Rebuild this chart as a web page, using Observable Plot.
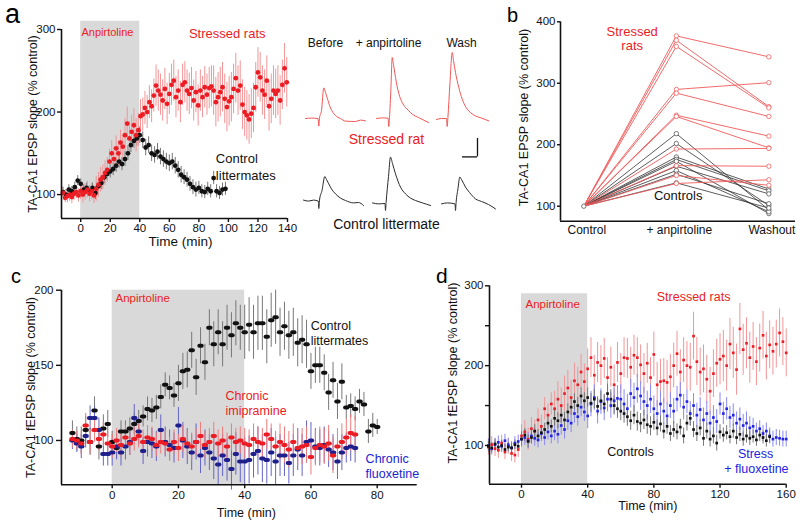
<!DOCTYPE html>
<html><head><meta charset="utf-8">
<script src="https://cdn.jsdelivr.net/npm/d3@7"></script>
<script src="https://cdn.jsdelivr.net/npm/@observablehq/plot@0.6"></script>
<style>
body{margin:0;background:#fff;}
#fig{position:relative;width:800px;height:526px;overflow:hidden;font-family:"Liberation Sans",Arial,sans-serif;}
.lt{position:absolute;line-height:1;color:#000;white-space:nowrap;}
</style></head><body><div id="fig"></div>
<script>
// ---------------- DATA ----------------
// Panel a: time course (min), EPSP slope (% control)
const aRedStart = -12, aRedStep = 1.5;
const aRedVals = [102,96,98,100,97,101,103,99,104, 100,103,106,101,104,99,107, 112,118,121,126,130,140,
 150,143,156,150,163,158,172, 186,168,176,184,172,178,195, 197,205,200,212,207,220,
 232,226,221,214,228,210,222, 233,238,218,226,212,233,236, 226,222,229,214,224,208,
 226,218,230,221,229,231,226, 212,218,224,230,216,206,213, 218,228,241,226,232,209,
 200,196,191,198,205,230,248, 242,226,221,238,207,216,226, 222,226,214,233,253,236];
const aRedErrBins = [6,8,10,15,15,20,20,25,25,25,25,30,30,30,30,30,30]; // per 10 min from -20
const aBlackStart = -12, aBlackStep = 2;
const aBlackVals = [103,100,106,104,109,117,113, 106,108,104,108,102, 110,114,121,125,128,
 131,135,140,137,143, 150,160,165,168,172, 166,157,160,150,148, 152,146,143,140,138,
 140,135,130,124,121, 118,113,109,106,108, 104,103,107,104,120, 104,102,106,107];
const aBlackErrBins = [6,6,6,8,8,9,10,10,10,9,8,8,8];
const aXTicks = [0,20,40,60,80,100,120,140];
const aYTicks = [100,200,300];
const drugWindow = {start:0, end:40};

// Panel a inset traces: [ms, mV] relative to each row's baseline
const traceRedBefore = [[0,0],[6,0.02],[12.5,0],[13.3,-0.38],[14,0.02],[16,0.4],[18.3,1.53],[20,1.3],[21.7,1.03],[25,0.53],[30,0.15],[35,0],[40,-0.13],[50,-0.15],[55,-0.08],[60,-0.12]];
const traceRedAnp = [[0,0],[6,0.03],[11.5,0.02],[12.3,-0.4],[13,0.05],[14.5,1.6],[15.7,3.05],[17,2.7],[19,2.05],[22.3,1.25],[25.7,0.8],[29,0.55],[32,0.4],[35.7,0.22],[42,0.05],[52,-0.2]];
const traceRedWash = [[0,-0.05],[5,0],[10,0],[10.7,-0.4],[11.4,0.05],[13.5,1.8],[15.7,3.3],[17,2.9],[19,2.3],[22.3,1.55],[25.7,0.97],[29,0.6],[32.3,0.38],[39,0.13],[45,0.02],[52.3,-0.12]];
const traceBlackBefore = [[0,0.02],[5,-0.03],[10,0.02],[14.8,-0.03],[15.3,-0.4],[16,0.02],[18.5,0.5],[21.3,1.2],[23,1.05],[25.3,0.83],[28,0.58],[32,0.33],[37,0.12],[42,0],[50,-0.12],[55,-0.1],[60,-0.25]];
const traceBlackAnp = [[0,-0.12],[6,-0.17],[12.5,-0.15],[13,-0.5],[13.6,-0.1],[16,1.2],[18,2.17],[20,1.85],[23,1.33],[28,0.67],[33,0.33],[38,0.12],[43,0],[50,-0.12],[58,-0.25]];
const traceBlackWash = [[0,-0.17],[6,-0.12],[13.5,-0.17],[14,-0.5],[14.6,-0.1],[16.5,0.6],[18.3,1.17],[20,1.05],[24,0.67],[28,0.4],[34,0.08],[40,-0.05],[47,-0.2],[54,-0.42]];
const traceColumns = ["Before","+ anpirtoline","Wash"];
const scaleBar = {ms:15, mV:0.92};

// Panel b: paired values (% control)
const bCategories = ["Control","+ anpirtoline","Washout"];
const bControlValue = 100;
const bRedAnp  = [377,370,360,290,284,248,246,193,166,150,137];
const bRedWash = [343,262,260,301,246,214,195,194,165,134,143];
const bBlackAnp  = [218,202,180,176,173,165,158,152,138];
const bBlackWash = [94,101,128,125,88,120,91,104,97];
const bYTicks = [100,200,300,400];

// Panel c
const cStep = 4/3;
const cBlackStart = -12;
const cBlackVals = [105,101,100,107,99,120,96,108,111,99, 95,106,106,108,111,113,116,121,120,122,
 129,137,135,130,138,146,147,160,142,163, 152,175,164,172,164,175,170,178,175,172,
 177,172,178,178,169,180,182,172,176,170, 172,165,167,164,146,150,150,145,132,140,
 126,139,122,123,121,126,124,106,110,109];
const cBlackErrBins = [8,9,7,8,12,15,18,16,12,8,5];
const cRedStart = -12;
const cRedVals = [101,100,98,110,99,107,101,104,98,96, 100,97,102,98,101,103,99,102,101,97,
 99,98,94,99,95,101,98,96,99,103, 97,99,103,98,100,96,102,99,100,98,
 97,101,99,98,104,101,96,99,97,94, 99,95,96,97,89,95,97,96,98,90,
 96,99,102,105,104];
const cRedErrBins = [6,8,8,8,9,9,10,12,12,12];
const cBlueStart = -12;
const cBlueVals = [100,98,96,103,115,115,107,91,91,92, 96,92,96,99,115,106,93,99,98,96,
 107,99,97,95,110,100,96,92,99,90, 95,92,88,84,90,87,81,91,86,86,
 87,91,93,88,87,92,86,90,90,85, 90,94,90,99,100,96,95,97,94,92,
 86,92,95,96,95];
const cBlueErrBins = [6,8,9,10,12,14,16,14,12,10];
const cXTicks = [0,20,40,60,80];
const cYTicks = [100,150,200];

// Panel d
const dStep = 2;
const dRedStart = -20;
const dRedVals = [98,101,96,94,103,92,99,90,88,95, 112,117,108,121,118,132,124,146,138,152,
 146,158,150,165,172,160,181,176,192,180, 196,210,188,204,200,209,185,198,176,204,
 190,210,209,198,213,210,201,190,203,185, 214,176,180,181,179,186,200,215,192,207,
 200,198,237,205,192,196,183,168,190,203, 208,212,200,227,216,195,246,220,228,210,
 224,205,222,238,212,226,218,227,241,230, 216];
const dRedErrBins = [10,14,22,25,25,28,30,32,30,30];
const dBlackStart = -20;
const dBlackVals = [99,97,102,98,100,95,98,97,101,99, 108,113,105,110,118,112,116,120,128,124,
 134,131,138,132,142,148,155,150,162,156, 160,153,158,149,156,152,165,158,150,146,
 143,140,136,131,138,130,128,132,126,124, 129,122,127,118,124,115,120,117,123,112,
 128,134,120,115,122,109,118,108,112,103, 117,113,116,111,118,110,114,108,112,109,
 111,107,113,110,106,111];
const dBlackErrBins = [6,8,10,12,12,10,10,9,8,8];
const dBlueStart = -20;
const dBlueVals = [100,96,101,104,99,106,101,97,103,105, 108,110,106,112,109,107,115,110,117,112,
 118,114,125,120,131,128,140,136,148,142, 137,152,160,143,155,147,158,150,156,159,
 158,152,146,165,160,171,162,155,150,158, 146,140,152,143,137,150,143,158,163,148,
 155,140,150,138,145,132,140,128,135,130, 152,140,146,135,138,128,133,125,128,122,
 124,118,121,115,118,112,108,110,109,108, 108];
const dBlueErrBins = [8,10,12,16,18,16,15,14,10,10];
const dXTicks = [0,40,80,120,160];
const dYTicks = [100,150,200,250,300];
const dYLabelled = [100,200,300];

// ---------------- HELPERS ----------------
const fig = document.getElementById("fig");
const FONT = "'Liberation Sans', Arial, sans-serif";
const style = {fontFamily: FONT, fontSize: "11.5px", color: "#111", background: "transparent", overflow: "visible"};
const RED = "#ec1c24", RED_ERR = "#f29597", BLACK = "#111", BLACK_ERR = "#777",
      NAVY = "#1f1f8c", NAVY_ERR = "#6565c8", BLUE = "#2323e4", BLUE_ERR = "#8a8af2", GREY = "#d9d9d9";

function series(vals, start, step, errBins, binStart, binW) {
  return vals.map((v, i) => {
    const t = start + i * step;
    const e = errBins[Math.min(errBins.length - 1, Math.floor((t - binStart) / binW))];
    return {t, v, lo: v - e, hi: v + e};
  });
}
function place(node, left, top) {
  node.style.position = "absolute"; node.style.left = left + "px"; node.style.top = top + "px";
  fig.appendChild(node);
}
function letter(txt, left, top, size) {
  const d = document.createElement("div"); d.className = "lt"; d.textContent = txt;
  d.style.left = left + "px"; d.style.top = top + "px"; d.style.fontSize = size + "px";
  fig.appendChild(d);
}
const errRule = (data, color) => Plot.ruleX(data, {x: "t", y1: "lo", y2: "hi", stroke: color, strokeWidth: 1});
const frameAxes = (xd, yd, yTop) => [
  Plot.ruleY([yd[0]], {x1: () => xd[0], x2: () => xd[1], stroke: "#111", strokeWidth: 1.6}),
  Plot.ruleX([xd[0]], {y1: () => yd[0], y2: () => yTop, stroke: "#111", strokeWidth: 1.6})
];
const note = (txt, x, y, color, size, anchor = "start") =>
  Plot.text([txt], {x: () => x, y: () => y, text: d => d, fill: color, fontSize: size, textAnchor: anchor, lineAnchor: "middle"});
const yLabel = (txt, dx, dy = 0) =>
  Plot.text([txt], {frameAnchor: "left", dx, dy, rotate: -90, fontSize: 12.5, textAnchor: "middle", lineAnchor: "middle"});
const xLabel = (txt, dx, dy, size) =>
  Plot.text([txt], {frameAnchor: "bottom", dx, dy, fontSize: size, textAnchor: "middle", lineAnchor: "middle"});

// ---------------- PANEL A ----------------
{
  const xd = [-13, 140], yd = [71, 300];
  const red = series(aRedVals, aRedStart, aRedStep, aRedErrBins, -20, 10);
  const blk = series(aBlackVals, aBlackStart, aBlackStep, aBlackErrBins, -20, 10);
  const svg = Plot.plot({
    width: 300, height: 255, marginLeft: 61, marginRight: 13, marginTop: 29, marginBottom: 37,
    x: {domain: xd}, y: {domain: yd}, style,
    marks: [
      Plot.rect([drugWindow], {x1: "start", x2: "end", y1: () => yd[0], y2: () => 310, fill: GREY}),
      errRule(blk, BLACK_ERR), errRule(red, RED_ERR),
      Plot.dot(blk, {x: "t", y: "v", r: 2.4, fill: BLACK}),
      Plot.dot(red, {x: "t", y: "v", r: 2.4, fill: RED}),
      ...frameAxes(xd, yd, 300),
      Plot.axisY({ticks: aYTicks, tickSize: 4, tickPadding: 2, label: null, strokeWidth: 1.4}),
      Plot.axisX({ticks: aXTicks, tickSize: 4, tickPadding: 1.5, label: null, strokeWidth: 1.4}),
      yLabel("TA-CA1 EPSP slope (% control)", -29),
      xLabel("Time (min)", 6, 23.5, 13.5),
      note("Anpirtoline", 18.1, 296, RED, 11, "middle"),
      note("Stressed rats", 99.2, 295, RED, 13, "middle"),
      note("Control", 91.5, 143.7, BLACK, 13),
      note("littermates", 91.5, 123, BLACK, 13)
    ]
  });
  place(svg, 0, 0);
}

// ---------------- PANEL A INSET (traces) ----------------
{
  const rows = [
    {data: traceRedBefore, x0: 10, base: -1.9, color: "#ef4444", w: 0.9},
    {data: traceRedAnp, x0: 81, base: -1.9, color: "#ef4444", w: 0.9},
    {data: traceRedWash, x0: 141, base: -1.9, color: "#ef4444", w: 0.9},
    {data: traceBlackBefore, x0: 8, base: -6, color: "#2a2a2a", w: 1},
    {data: traceBlackAnp, x0: 77, base: -6, color: "#2a2a2a", w: 1},
    {data: traceBlackWash, x0: 146, base: -6, color: "#2a2a2a", w: 1}
  ];
  const colX = [30, 93, 166];
  const sbX = 182, sbY = -2.9;
  const svg = Plot.plot({
    width: 210, height: 200, margin: 0,
    x: {domain: [0, 210], axis: null}, y: {domain: [-8, 2], axis: null}, style,
    marks: [
      ...rows.map(r => Plot.line(r.data, {x: d => r.x0 + d[0], y: d => r.base + d[1], stroke: r.color, strokeWidth: r.w, curve: "monotone-x"})),
      ...traceColumns.map((c, i) => note(c, colX[i], 1.85, "#111", 12, "middle")),
      note("Stressed rat", 91, -2.95, RED, 14, "middle"),
      note("Control littermate", 91, -7.2, "#111", 14, "middle"),
      Plot.ruleX([scaleBar], {x: () => sbX, y1: () => sbY, y2: d => sbY - d.mV, stroke: "#111", strokeWidth: 1.3}),
      Plot.ruleY([scaleBar], {y: d => sbY - d.mV, x1: d => sbX - d.ms, x2: () => sbX, stroke: "#111", strokeWidth: 1.3})
    ]
  });
  place(svg, 295, 40);
}

// ---------------- PANEL B ----------------
{
  const xd = [-0.252, 2.288], yd = [75.6, 400];
  const mk = (anp, wash, grp) => anp.flatMap((a, i) => [
    {id: grp + i, x: 0, v: bControlValue}, {id: grp + i, x: 1, v: a}, {id: grp + i, x: 2, v: wash[i]}]);
  const red = mk(bRedAnp, bRedWash, "r"), blk = mk(bBlackAnp, bBlackWash, "k");
  const svg = Plot.plot({
    width: 300, height: 255, marginLeft: 60, marginRight: 5, marginTop: 21.3, marginBottom: 34.3,
    x: {domain: xd}, y: {domain: yd}, style,
    marks: [
      Plot.line(blk, {x: "x", y: "v", z: "id", stroke: "#333", strokeWidth: 0.8}),
      Plot.line(red, {x: "x", y: "v", z: "id", stroke: "#f05a5a", strokeWidth: 0.9}),
      Plot.dot(blk.filter(d => d.x > 0), {x: "x", y: "v", r: 2.2, stroke: "#555", strokeWidth: 0.8, fill: "white"}),
      Plot.dot(red.filter(d => d.x > 0), {x: "x", y: "v", r: 2.2, stroke: "#f06060", strokeWidth: 0.8, fill: "white"}),
      Plot.dot([bControlValue], {x: () => 0, y: d => d, r: 2.2, stroke: "#555", strokeWidth: 0.8, fill: "white"}),
      ...frameAxes(xd, yd, 400),
      Plot.axisY({ticks: bYTicks, tickSize: 3, tickPadding: 2, label: null, strokeWidth: 1.4}),
      Plot.axisX({ticks: [0, 1, 2], tickFormat: i => bCategories[i], tickSize: 0, tickPadding: 4, label: null, dx: 3, fontSize: 12}),
      yLabel("TA-CA1 EPSP slope (% control)", -37, -4),
      note("Stressed", 0.523, 383, RED, 13, "middle"),
      note("rats", 0.523, 360.3, RED, 13, "middle"),
      note("Controls", 1.02, 116.3, BLACK, 13, "middle")
    ]
  });
  place(svg, 500, 0);
}

// ---------------- PANEL C ----------------
const capsule = {draw(ctx) {
  const a = 3.2, b = 2, c = a - b;
  ctx.moveTo(-c, -b); ctx.lineTo(c, -b); ctx.arc(c, 0, b, -Math.PI / 2, Math.PI / 2);
  ctx.lineTo(-c, b); ctx.arc(-c, 0, b, Math.PI / 2, 3 * Math.PI / 2); ctx.closePath();
}};
{
  const xd = [-15.3, 92.07], yd = [70.5, 200];
  const blk = series(cBlackVals, cBlackStart, cStep, cBlackErrBins, -20, 10);
  const red = series(cRedVals, cRedStart, cStep, cRedErrBins, -20, 10);
  const blu = series(cBlueVals, cBlueStart, cStep, cBlueErrBins, -20, 10);
  const svg = Plot.plot({
    width: 420, height: 271, marginLeft: 61, marginRight: 3.3, marginTop: 34.7, marginBottom: 41.7,
    x: {domain: xd}, y: {domain: yd}, style,
    marks: [
      Plot.rect([drugWindow], {x1: "start", x2: "end", y1: () => yd[0], y2: () => 200, fill: GREY}),
      errRule(blk, BLACK_ERR), errRule(blu, NAVY_ERR), errRule(red, "#f07a7a"),
      Plot.dot(blk, {x: "t", y: "v", symbol: capsule, fill: BLACK}),
      Plot.dot(blu, {x: "t", y: "v", symbol: capsule, fill: NAVY}),
      Plot.dot(red, {x: "t", y: "v", symbol: capsule, fill: RED}),
      ...frameAxes(xd, yd, 200),
      Plot.axisY({ticks: cYTicks, tickSize: 5, tickPadding: 3, label: null, strokeWidth: 1.4}),
      Plot.axisX({ticks: cXTicks, tickSize: 4, tickPadding: 2, label: null, strokeWidth: 1.4}),
      yLabel("TA-CA1 fEPSP slope (% control)", -31),
      xLabel("Time (min)", 7, 28, 12.5),
      note("Anpirtoline", 1.0, 194.5, RED, 11.5),
      note("Control", 59.9, 176, BLACK, 12.5),
      note("littermates", 59.9, 166.5, BLACK, 12.5),
      note("Chronic", 34.2, 129.5, RED, 12.5),
      note("imipramine", 34.2, 119.8, RED, 12.5),
      note("Chronic", 76.5, 88, "#2323d0", 12.5),
      note("fluoxetine", 76.5, 78, "#2323d0", 12.5)
    ]
  });
  place(svg, 0, 255);
}

// ---------------- PANEL D ----------------
{
  const xd = [-19.35, 160], yd = [51.5, 300];
  const red = series(dRedVals, dRedStart, dStep, dRedErrBins, -20, 20);
  const blk = series(dBlackVals, dBlackStart, dStep, dBlackErrBins, -20, 20);
  const blu = series(dBlueVals, dBlueStart, dStep, dBlueErrBins, -20, 20);
  const svg = Plot.plot({
    width: 380, height: 271, marginLeft: 69, marginRight: 14.3, marginTop: 30.3, marginBottom: 42.3,
    x: {domain: xd}, y: {domain: yd}, style,
    marks: [
      Plot.rect([drugWindow], {x1: "start", x2: "end", y1: () => yd[0], y2: () => 290, fill: GREY}),
      errRule(red, RED_ERR), errRule(blu, BLUE_ERR), errRule(blk, BLACK_ERR),
      Plot.dot(red, {x: "t", y: "v", symbol: "square", r: 1.5, fill: RED}),
      Plot.dot(blu, {x: "t", y: "v", symbol: "square", r: 1.5, fill: BLUE}),
      Plot.dot(blk, {x: "t", y: "v", symbol: "square", r: 1.5, fill: BLACK}),
      ...frameAxes(xd, yd, 300),
      Plot.axisY({ticks: dYTicks, tickFormat: d => dYLabelled.includes(d) ? d : "", tickSize: 4, tickPadding: 2, label: null, strokeWidth: 1.4}),
      Plot.axisX({ticks: dXTicks, tickSize: 4, tickPadding: 1.5, label: null, strokeWidth: 1.4}),
      yLabel("TA-CA1 fEPSP slope (% control)", -37, -12),
      xLabel("Time (min)", 10, 22, 12.5),
      note("Anpirtoline", 2.4, 276.6, RED, 11.5),
      note("Stressed rats", 104, 285.7, RED, 12.5, "middle"),
      note("Controls", 65.9, 91.6, BLACK, 12.5, "middle"),
      note("Stress", 141.5, 88.7, BLUE, 12.5, "middle"),
      note("+ fluoxetine", 142, 70.8, BLUE, 12.5, "middle")
    ]
  });
  place(svg, 420, 255);
}

// ---------------- PANEL LETTERS ----------------
letter("a", 5, 1, 27);
letter("b", 507, 5, 20);
letter("c", 11, 266, 20);
letter("d", 436, 265, 21);
</script></body></html>
